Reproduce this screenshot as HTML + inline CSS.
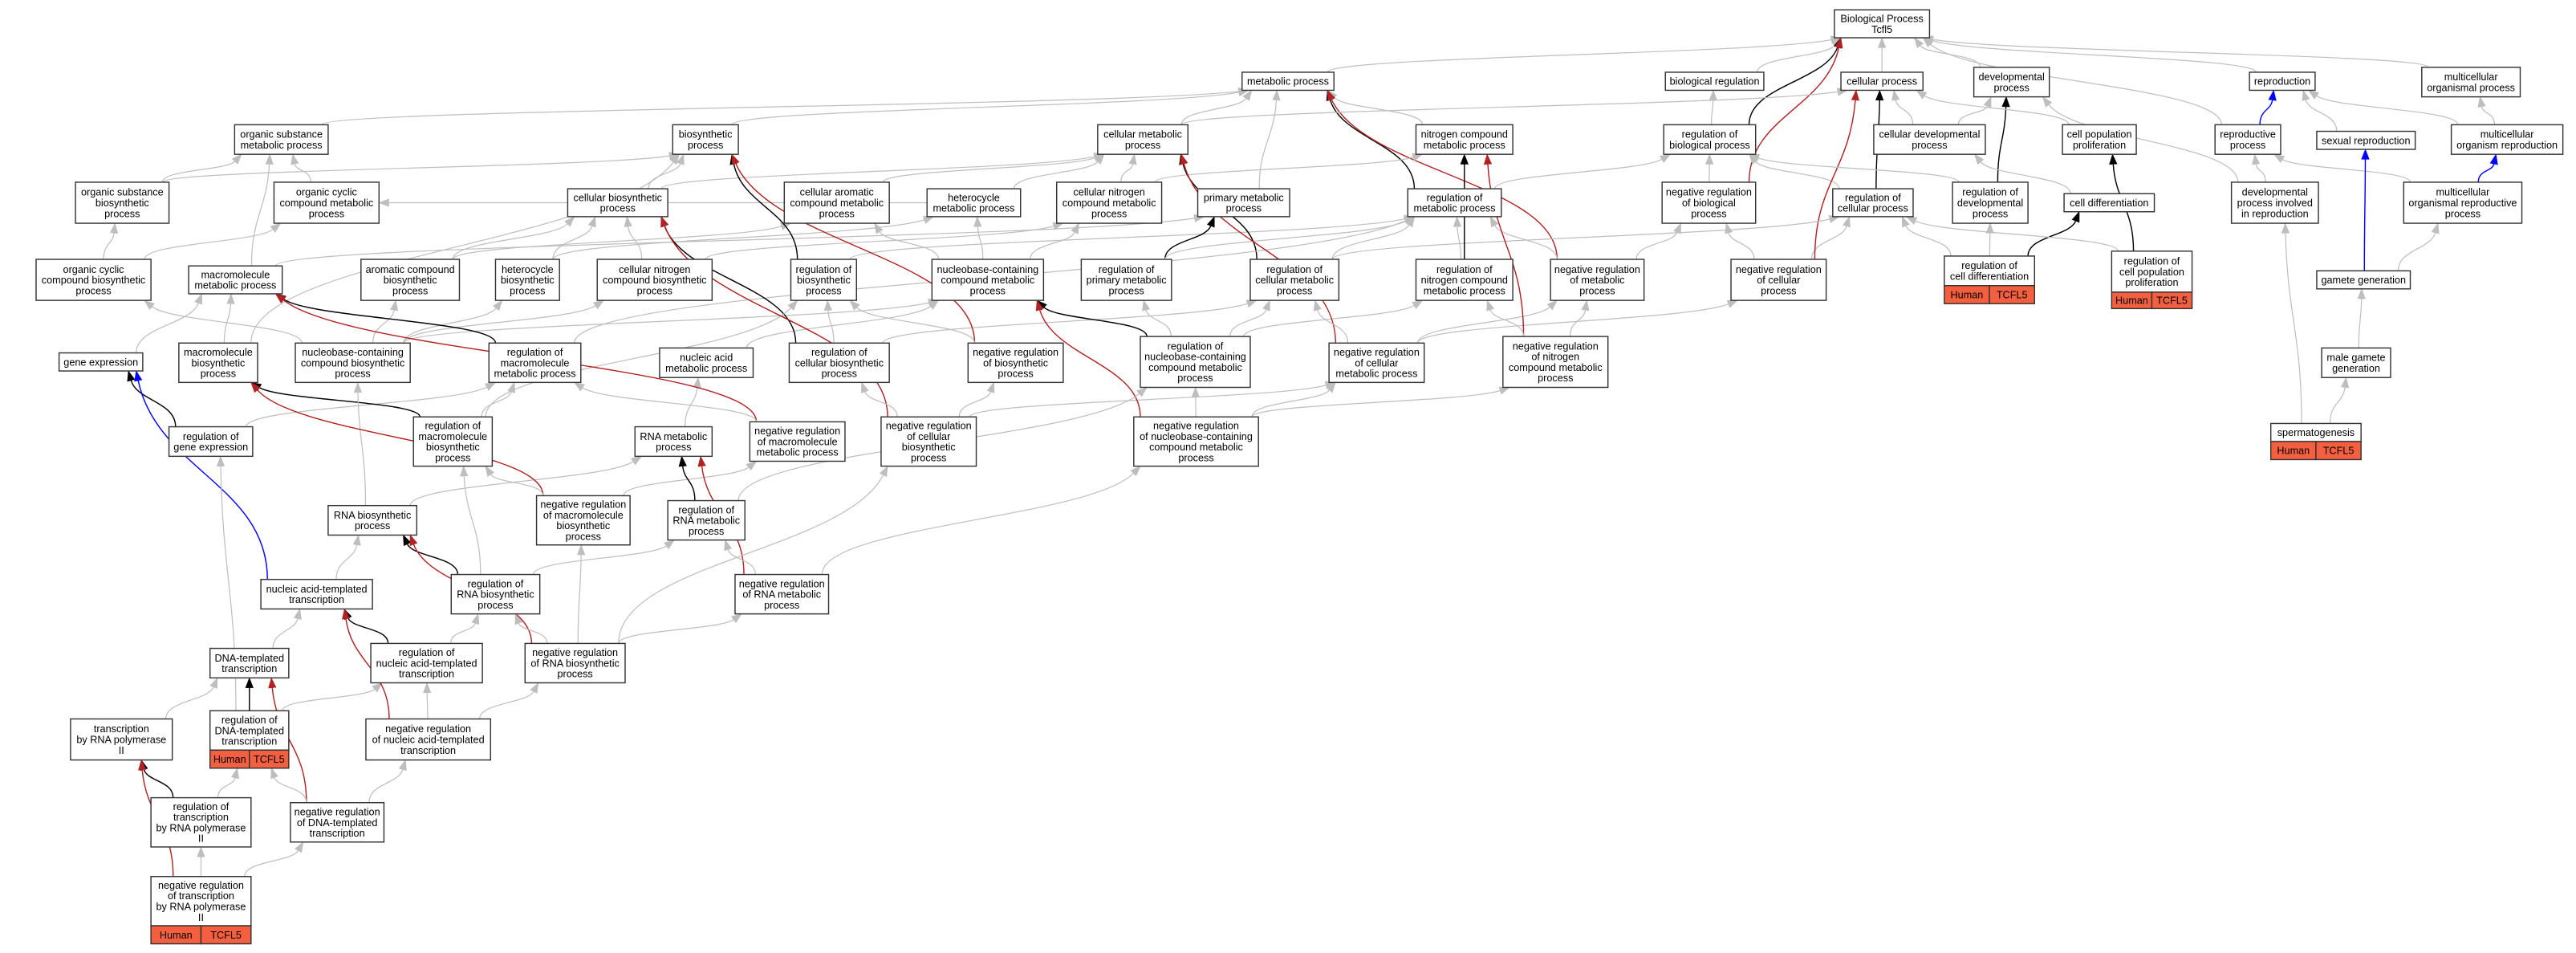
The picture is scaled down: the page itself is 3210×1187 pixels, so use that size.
<!DOCTYPE html>
<html><head><meta charset="utf-8">
<style>
html,body{margin:0;padding:0;background:#fff;}
svg{display:block;}
text{font-family:"Liberation Sans",Arial,sans-serif;font-size:6.2px;fill:#000;}
</style></head>
<body>
<svg id="g" xmlns="http://www.w3.org/2000/svg" width="3210" height="1187" viewBox="0 0 1570 580.6" preserveAspectRatio="none">
<rect x="0" y="0" width="1570" height="581" fill="#fff"/>
<g id="edges"></g>
<g id="nodes"></g>
</svg>
<script>
var N={
BP:[1118,1176,6,23,"Biological Process|Tcfl5"],
MP:[757,813,44,55,"metabolic process"],
BR:[1015,1075,44,55,"biological regulation"],
CP:[1122,1172,44,55,"cellular process"],
DP:[1203,1249,41,59,"developmental|process"],
REP:[1371,1411,44,55,"reproduction"],
MOP:[1476,1536,41,59,"multicellular|organismal process"],
OSMP:[143,200,76,94,"organic substance|metabolic process"],
BSP:[410,450,76,94,"biosynthetic|process"],
CMP:[669,724,76,94,"cellular metabolic|process"],
NCMP:[863,922,76,94,"nitrogen compound|metabolic process"],
RBP:[1014,1070,76,94,"regulation of|biological process"],
CDP:[1142,1210,76,94,"cellular developmental|process"],
CPP:[1257,1302,76,94,"cell population|proliferation"],
RP:[1350,1390,76,94,"reproductive|process"],
SR:[1412,1472,80,91,"sexual reproduction"],
MOR:[1494,1562,76,94,"multicellular|organism reproduction"],
OSBP:[46,103,111,136,"organic substance|biosynthetic|process"],
OCCMP:[167,231,111,136,"organic cyclic|compound metabolic|process"],
CBP:[346,407,115,132,"cellular biosynthetic|process"],
CACMP:[478,542,111,136,"cellular aromatic|compound metabolic|process"],
HMP:[565,622,115,132,"heterocycle|metabolic process"],
CNCMP:[644,708,111,136,"cellular nitrogen|compound metabolic|process"],
PMP:[730,786,115,132,"primary metabolic|process"],
RMP:[858,915,115,132,"regulation of|metabolic process"],
NRBP:[1013,1070,111,136,"negative regulation|of biological|process"],
RCP:[1117,1166,115,132,"regulation of|cellular process"],
RDP:[1190,1236,111,136,"regulation of|developmental|process"],
CD:[1258,1313,118,129,"cell differentiation"],
DPIR:[1360,1413,111,136,"developmental|process involved|in reproduction"],
MORP:[1465,1537,111,136,"multicellular|organismal reproductive|process"],
OCCBP:[22,92,158,183,"organic cyclic|compound biosynthetic|process"],
MMP:[115,172,162,179,"macromolecule|metabolic process"],
ACBP:[220,280,158,183,"aromatic compound|biosynthetic|process"],
HBP:[302,341,158,183,"heterocycle|biosynthetic|process"],
CNCBP:[364,434,158,183,"cellular nitrogen|compound biosynthetic|process"],
RBSP:[482,522,158,183,"regulation of|biosynthetic|process"],
NCCMP:[568,636,158,183,"nucleobase-containing|compound metabolic|process"],
RPMP:[659,714,158,183,"regulation of|primary metabolic|process"],
RCMP:[762,816,158,183,"regulation of|cellular metabolic|process"],
RNCMP:[863,922,158,183,"regulation of|nitrogen compound|metabolic process"],
NRMP:[945,1002,158,183,"negative regulation|of metabolic|process"],
NRCP:[1055,1113,158,183,"negative regulation|of cellular|process"],
RCD:[1185,1240,156,174,"regulation of|cell differentiation",11],
RCPP:[1287,1336,153,178,"regulation of|cell population|proliferation",10],
GG:[1412,1469,165,176,"gamete generation"],
GE:[36,87,215,226,"gene expression"],
MBP:[109,157,209,233,"macromolecule|biosynthetic|process"],
NCCBP:[180,250,209,233,"nucleobase-containing|compound biosynthetic|process"],
RMMP:[298,354,209,233,"regulation of|macromolecule|metabolic process"],
NAMP:[402,459,212,230,"nucleic acid|metabolic process"],
RCBP:[481,542,209,233,"regulation of|cellular biosynthetic|process"],
NRBSP:[590,648,209,233,"negative regulation|of biosynthetic|process"],
RNCCMP:[695,762,205,236,"regulation of|nucleobase-containing|compound metabolic|process"],
NRCMP:[810,868,209,233,"negative regulation|of cellular|metabolic process"],
NRNCMP:[916,980,205,236,"negative regulation|of nitrogen|compound metabolic|process"],
MGG:[1415,1457,212,230,"male gamete|generation"],
RGE:[103,154,260,278,"regulation of|gene expression"],
RMBP:[252,300,254,284,"regulation of|macromolecule|biosynthetic|process"],
RNAMP:[387,434,260,278,"RNA metabolic|process"],
NRMMP:[457,515,257,281,"negative regulation|of macromolecule|metabolic process"],
NRCBP:[537,595,254,284,"negative regulation|of cellular|biosynthetic|process"],
NRNCCMP:[691,767,254,284,"negative regulation|of nucleobase-containing|compound metabolic|process"],
SPG:[1384,1439,258,269,"spermatogenesis",11],
RNABP:[200,254,308,326,"RNA biosynthetic|process"],
NRMBP:[327,384,302,332,"negative regulation|of macromolecule|biosynthetic|process"],
RRNAMP:[407,454,305,329,"regulation of|RNA metabolic|process"],
NATT:[159,227,353,371,"nucleic acid-templated|transcription"],
RRNABP:[275,329,350,374,"regulation of|RNA biosynthetic|process"],
NRRNAMP:[448,505,350,374,"negative regulation|of RNA metabolic|process"],
DTT:[128,176,395,413,"DNA-templated|transcription"],
RNATT:[226,294,392,416,"regulation of|nucleic acid-templated|transcription"],
NRRNABP:[320,381,392,416,"negative regulation|of RNA biosynthetic|process"],
TRP2:[43,105,438,463,"transcription|by RNA polymerase|II"],
RDTT:[128,176,433,457,"regulation of|DNA-templated|transcription",11],
NRNATT:[223,299,438,463,"negative regulation|of nucleic acid-templated|transcription"],
RTRP2:[92,153,486,516,"regulation of|transcription|by RNA polymerase|II"],
NRDTT:[177,234,489,513,"negative regulation|of DNA-templated|transcription"],
NRTRP2:[92,153,534,564,"negative regulation|of transcription|by RNA polymerase|II",11]
};
var G="#bebebe",K="#000",R="#b22222",B="#0000ff";
var E=[
["MP","BP",G],["BR","BP",G],["CP","BP",G],["DP","BP",G],["REP","BP",G],["MOP","BP",G],["RBP","BP",K],["NRBP","BP",R],["RP","BP",G],
["OSMP","MP",G],["BSP","MP",G],["CMP","MP",G],["PMP","MP",G],["NCMP","MP",G],["RMP","MP",K],["NRMP","MP",R],
["OSBP","OSMP",G],["OSBP","BSP",G],["OCCMP","OSMP",G],["MMP","OSMP",G],["MMP","PMP",G],["CMP","CP",G],
["CBP","BSP",G],["CBP","CMP",G],["CACMP","CMP",G],["HMP","OCCMP",G],["HMP","CMP",G],["CNCMP","CMP",G],["CNCMP","NCMP",G],
["RMP","RBP",G],["RCP","CP",K],["RCP","RBP",G],["NRBP","RBP",G],["NRCP","RCP",G],["NRCP","NRBP",G],["NRCP","CP",R],
["RDP","DP",K],["RDP","RBP",G],["CDP","CP",G],["CDP","DP",G],["CD","CDP",G],["RCD","CD",K],["RCD","RDP",G],["RCD","RCP",G],
["RCPP","CPP",K],["RCPP","RCP",G],["CPP","CP",G],["RBP","BR",G],
["RP","REP",B],["SR","REP",G],["MOR","REP",G],["MOR","MOP",G],["DPIR","RP",G],["DPIR","DP",G],["MORP","RP",G],["MORP","MOR",B],
["GG","SR",B],["GG","MORP",G],["MGG","GG",G],["SPG","MGG",G],["SPG","DPIR",G],
["OCCBP","OSBP",G],["OCCBP","OCCMP",G],["ACBP","CBP",G],["ACBP","CACMP",G],["HBP","CBP",G],["HBP","HMP",G],["CNCBP","CBP",G],["CNCBP","CNCMP",G],
["RBSP","BSP",K],["RBSP","RMP",G],["NCCMP","CACMP",G],["NCCMP","HMP",G],["NCCMP","CNCMP",G],
["RPMP","PMP",K],["RPMP","RMP",G],["RCMP","CMP",K],["RCMP","RMP",G],["RCMP","RCP",G],["RNCMP","NCMP",K],["RNCMP","RMP",G],
["NRMP","RMP",G],["NRMP","NRBP",G],
["GE","MMP",G],["MBP","MMP",G],["MBP","BSP",G],["NCCBP","NCCMP",G],["NCCBP","OCCBP",G],["NCCBP","ACBP",G],["NCCBP","HBP",G],["NCCBP","CNCBP",G],
["RMMP","MMP",K],["RMMP","RMP",G],["NAMP","NCCMP",G],["RCBP","CBP",K],["RCBP","RBSP",G],["RCBP","RCMP",G],
["NRBSP","BSP",R],["NRBSP","RBSP",G],["RNCCMP","NCCMP",K],["RNCCMP","RPMP",G],["RNCCMP","RCMP",G],["RNCCMP","RNCMP",G],
["NRCMP","CMP",R],["NRCMP","RCMP",G],["NRCMP","NRMP",G],["NRCMP","NRCP",G],["NRNCMP","NCMP",R],["NRNCMP","RNCMP",G],["NRNCMP","NRMP",G],
["RGE","GE",K],["RGE","RMMP",G],["RMBP","MBP",K],["RMBP","RMMP",G],["RMBP","RBSP",G],["RNAMP","NAMP",G],
["NRMMP","MMP",R],["NRMMP","RMMP",G],["NRCBP","CBP",R],["NRCBP","RCBP",G],["NRCBP","NRBSP",G],["NRCBP","NRCMP",G],
["NRNCCMP","NCCMP",R],["NRNCCMP","RNCCMP",G],["NRNCCMP","NRCMP",G],["NRNCCMP","NRNCMP",G],
["RNABP","RNAMP",G],["RNABP","NCCBP",G],["NRMBP","MBP",R],["NRMBP","RMBP",G],["NRMBP","NRMMP",G],
["RRNAMP","RNAMP",K],["RRNAMP","RNCCMP",G],["NATT","RNABP",G],["NATT","GE",B],
["RRNABP","RNABP",K],["RRNABP","RMBP",G],["RRNABP","RRNAMP",G],
["NRRNAMP","RNAMP",R],["NRRNAMP","RRNAMP",G],["NRRNAMP","NRNCCMP",G],
["DTT","NATT",G],["RNATT","NATT",K],["RNATT","RRNABP",G],
["NRRNABP","RNABP",R],["NRRNABP","RRNABP",G],["NRRNABP","NRMBP",G],["NRRNABP","NRRNAMP",G],["NRRNABP","NRCBP",G],
["TRP2","DTT",G],["RDTT","DTT",K],["RDTT","RNATT",G],["RDTT","RGE",G],
["NRNATT","NATT",R],["NRNATT","RNATT",G],["NRNATT","NRRNABP",G],
["RTRP2","TRP2",K],["RTRP2","RDTT",G],["NRDTT","DTT",R],["NRDTT","RDTT",G],["NRDTT","NRNATT",G],
["NRTRP2","TRP2",R],["NRTRP2","RTRP2",G],["NRTRP2","NRDTT",G]
];
var NS="http://www.w3.org/2000/svg";
function el(t,a,p){var e=document.createElementNS(NS,t);for(var k in a)e.setAttribute(k,a[k]);p.appendChild(e);return e;}
function box(id){var n=N[id];return [n[0],n[1],n[2],n[3]+(n[5]||0)];}
function clip(b,cx,cy,tx,ty){
  var dx=tx-cx,dy=ty-cy,hw=(b[1]-b[0])/2,hh=(b[3]-b[2])/2;
  var s=Math.min(dx?hw/Math.abs(dx):1e9,dy?hh/Math.abs(dy):1e9);
  return [cx+dx*s,cy+dy*s];
}
function clamp(v,a,b){return Math.max(a,Math.min(b,v));}
var eg=document.getElementById("edges"),ng=document.getElementById("nodes");
E.forEach(function(e){
  var a=box(e[0]),b=box(e[1]);
  var acx=(a[0]+a[1])/2,acy=(a[2]+a[3])/2,bcx=(b[0]+b[1])/2,bcy=(b[2]+b[3])/2;
  var p,q,c1,c2,d;
  if(b[3]<a[2]-8){
    var dy=a[2]-b[3];
    p=[clamp(acx+(bcx-acx)*0.35,a[0]+4,a[1]-4),a[2]];
    q=[clamp(bcx+(acx-bcx)*0.25,b[0]+4,b[1]-4),b[3]];
    var k=dy*0.45;
    c1=[p[0],p[1]-k];c2=[q[0]+(p[0]-q[0])*0.15,q[1]+k];
  } else {
    p=clip(a,acx,acy,bcx,bcy);q=clip(b,bcx,bcy,acx,acy);
    c1=[p[0]+(q[0]-p[0])/3,p[1]+(q[1]-p[1])/3];c2=[p[0]+2*(q[0]-p[0])/3,p[1]+2*(q[1]-p[1])/3];
  }
  var tx=q[0]-c2[0],ty=q[1]-c2[1],L=Math.sqrt(tx*tx+ty*ty)||1,ux=tx/L,uy=ty/L;
  var al=6,aw=2.3;
  var bx=q[0]-ux*al,by=q[1]-uy*al;
  var c2b=[c2[0]-ux*al*0.5,c2[1]-uy*al*0.5];
  var sw=e[2]==G?0.6:0.7;
  el("path",{d:"M"+p[0]+","+p[1]+" C"+c1[0]+","+c1[1]+" "+c2b[0]+","+c2b[1]+" "+bx+","+by,fill:"none",stroke:e[2],"stroke-width":sw},eg);
  el("polygon",{points:q[0]+","+q[1]+" "+(bx-uy*aw)+","+(by+ux*aw)+" "+(bx+uy*aw)+","+(by-ux*aw),fill:e[2],stroke:e[2],"stroke-width":0.3},eg);
});
for(var id in N){
  var n=N[id],x=n[0],w=n[1]-n[0],y=n[2],h=n[3]-n[2];
  el("rect",{x:x,y:y,width:w,height:h,fill:"#fff",stroke:"#333","stroke-width":0.7},ng);
  var lines=n[4].split("|"),lh=6.5,cx=x+w/2,cy=y+h/2;
  for(var i=0;i<lines.length;i++){
    var t=el("text",{x:cx,y:cy+(i-(lines.length-1)/2)*lh+2.2,"text-anchor":"middle"},ng);
    t.textContent=lines[i];
  }
  if(n[5]){
    var hy=n[3],hh=n[5];
    el("rect",{x:x,y:hy,width:w/2,height:hh,fill:"#f4603f",stroke:"#333","stroke-width":0.7},ng);
    el("rect",{x:x+w/2,y:hy,width:w/2,height:hh,fill:"#f4603f",stroke:"#333","stroke-width":0.7},ng);
    var t1=el("text",{x:x+w/4,y:hy+hh/2+2.2,"text-anchor":"middle"},ng);t1.textContent="Human";
    var t2=el("text",{x:x+3*w/4,y:hy+hh/2+2.2,"text-anchor":"middle"},ng);t2.textContent="TCFL5";
  }
}
</script>
</body></html>
